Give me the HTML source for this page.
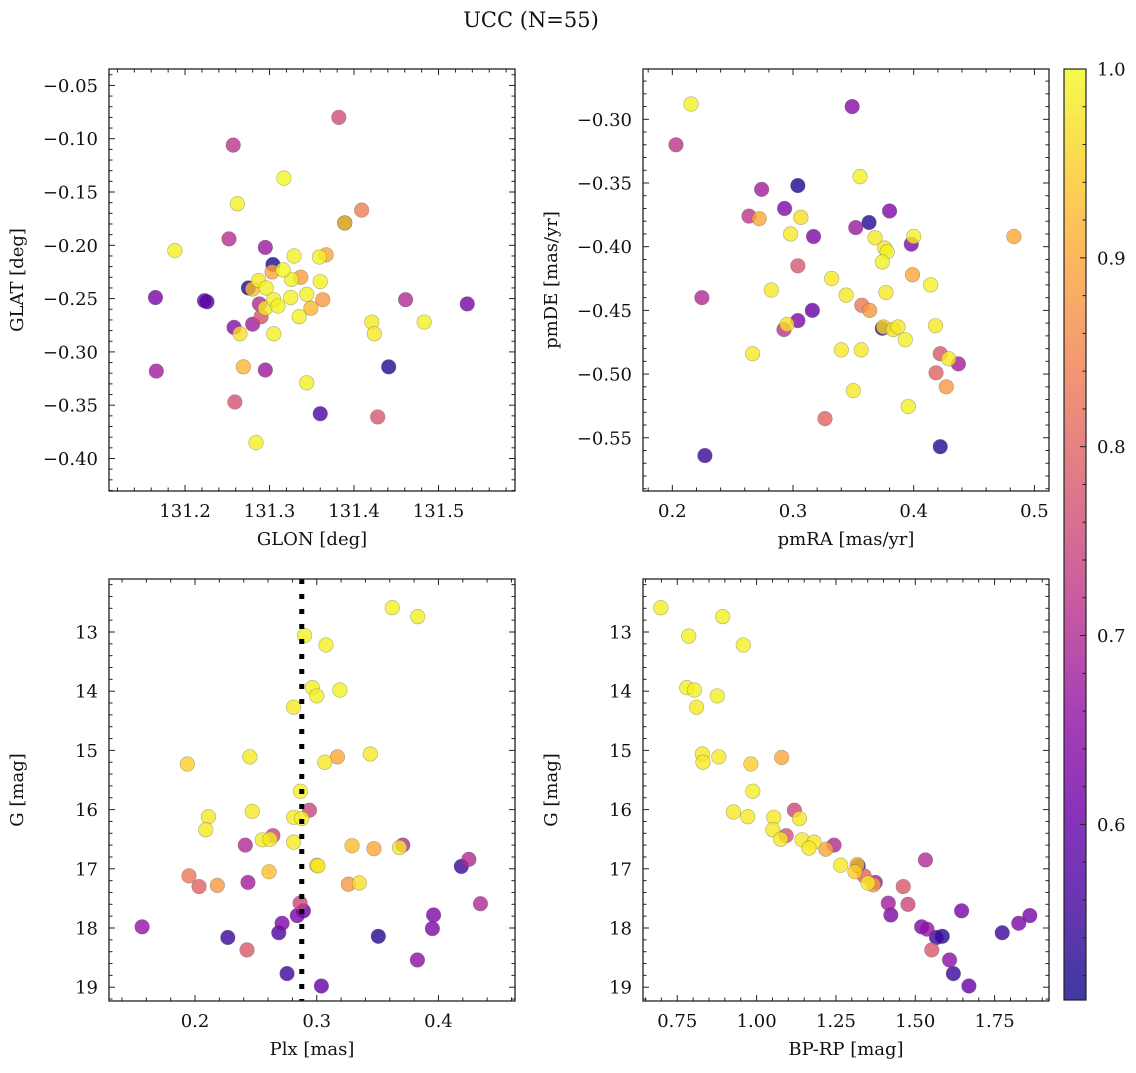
<!DOCTYPE html>
<html><head><meta charset="utf-8"><style>
html,body{margin:0;padding:0;background:#fff;}
svg text{font-family:"DejaVu Serif","Liberation Serif",serif;fill:#111;}
</style></head><body>
<svg id="fig" width="1136" height="1068" viewBox="0 0 1136 1068" xmlns="http://www.w3.org/2000/svg">
<text x="531" y="27" font-size="21" text-anchor="middle">UCC (N=55)</text>
</svg>
<script>
// ---- data ----
const glon = [131.382,131.257,131.317,131.262,131.409,131.389,131.389,131.252,131.188,131.295,131.329,131.367,131.359,131.304,131.303,131.316,131.337,131.326,131.360,131.287,131.275,131.280,131.296,131.165,131.223,131.226,131.325,131.344,131.363,131.461,131.534,131.305,131.288,131.310,131.295,131.349,131.290,131.335,131.258,131.280,131.421,131.483,131.265,131.305,131.424,131.166,131.269,131.295,131.441,131.344,131.259,131.360,131.428,131.284];
const glat = [-0.080,-0.106,-0.137,-0.161,-0.167,-0.179,-0.179,-0.194,-0.205,-0.202,-0.210,-0.209,-0.211,-0.218,-0.225,-0.223,-0.230,-0.232,-0.234,-0.233,-0.240,-0.241,-0.240,-0.249,-0.252,-0.253,-0.249,-0.246,-0.251,-0.251,-0.255,-0.251,-0.255,-0.257,-0.259,-0.259,-0.267,-0.267,-0.277,-0.274,-0.272,-0.272,-0.283,-0.283,-0.283,-0.318,-0.314,-0.317,-0.314,-0.329,-0.347,-0.358,-0.361,-0.385];
const probP1 = [0.76,0.72,1.0,0.99,0.84,0.53,0.95,0.71,0.99,0.67,0.99,0.90,0.99,0.52,0.90,1.0,0.89,0.99,0.99,0.98,0.52,0.93,0.99,0.62,0.59,0.57,0.99,0.99,0.88,0.70,0.62,0.99,0.70,0.99,0.98,0.92,0.77,0.99,0.64,0.68,0.98,0.99,0.97,0.99,0.98,0.68,0.92,0.67,0.53,0.99,0.77,0.57,0.78,0.99];

const pmra = [0.2155,0.349,0.203,0.3555,0.304,0.274,0.293,0.380,0.2635,0.272,0.3065,0.363,0.352,0.298,0.317,0.368,0.400,0.398,0.483,0.376,0.378,0.374,0.304,0.399,0.332,0.414,0.282,0.377,0.344,0.2245,0.357,0.3635,0.316,0.304,0.295,0.2925,0.418,0.374,0.375,0.383,0.387,0.393,0.2665,0.340,0.3565,0.422,0.429,0.437,0.4185,0.427,0.350,0.3955,0.3265,0.422,0.227];
const pmde = [-0.288,-0.290,-0.320,-0.345,-0.352,-0.355,-0.370,-0.372,-0.376,-0.378,-0.377,-0.381,-0.385,-0.390,-0.392,-0.393,-0.392,-0.398,-0.392,-0.401,-0.404,-0.412,-0.415,-0.422,-0.425,-0.430,-0.434,-0.436,-0.438,-0.440,-0.446,-0.450,-0.450,-0.458,-0.461,-0.465,-0.462,-0.464,-0.463,-0.465,-0.463,-0.473,-0.484,-0.481,-0.481,-0.484,-0.488,-0.492,-0.499,-0.510,-0.513,-0.5255,-0.535,-0.557,-0.564];
const probP2 = [0.99,0.64,0.72,0.99,0.52,0.68,0.63,0.63,0.72,0.90,0.97,0.53,0.67,0.98,0.63,0.98,0.99,0.63,0.90,0.98,0.99,0.99,0.78,0.90,0.98,0.99,0.98,0.98,0.98,0.70,0.83,0.88,0.60,0.63,0.97,0.72,0.98,0.53,0.96,0.97,0.98,0.99,0.98,0.98,0.98,0.78,0.98,0.68,0.80,0.88,0.98,0.99,0.80,0.53,0.55];

const plx = [0.362,0.383,0.290,0.3076,0.2964,0.300,0.319,0.281,0.245,0.1937,0.3066,0.317,0.344,0.2866,0.294,0.247,0.211,0.281,0.2877,0.2088,0.264,0.2553,0.2616,0.281,0.2413,0.329,0.347,0.3707,0.368,0.300,0.301,0.425,0.4188,0.2608,0.195,0.2033,0.2183,0.2435,0.326,0.335,0.4345,0.2863,0.289,0.284,0.396,0.2715,0.1565,0.395,0.2688,0.2269,0.3506,0.2427,0.3827,0.2756,0.3038];
const gmagP3 = [12.59,12.74,13.06,13.22,13.94,14.08,13.98,14.27,15.11,15.23,15.20,15.11,15.06,15.69,16.01,16.03,16.12,16.13,16.15,16.34,16.44,16.51,16.50,16.55,16.60,16.61,16.66,16.60,16.64,16.94,16.95,16.84,16.96,17.05,17.12,17.30,17.28,17.23,17.26,17.24,17.59,17.58,17.71,17.79,17.78,17.92,17.98,18.01,18.08,18.16,18.14,18.37,18.54,18.77,18.98];
const probP3 = [0.99,0.99,0.99,0.99,0.99,0.99,0.99,0.98,0.98,0.95,0.98,0.90,0.98,0.99,0.75,0.98,0.98,0.98,0.99,0.98,0.75,0.98,0.98,0.98,0.70,0.93,0.90,0.70,0.98,0.95,0.98,0.70,0.55,0.93,0.83,0.80,0.88,0.68,0.88,0.97,0.70,0.75,0.60,0.62,0.63,0.63,0.66,0.63,0.57,0.55,0.53,0.78,0.65,0.55,0.60];
const plxMean = [0.2877];

const bprp = [0.698,0.893,0.786,0.958,0.780,0.804,0.876,0.811,0.829,0.831,0.881,0.982,1.079,0.988,0.927,0.972,1.119,1.135,1.054,1.051,1.093,1.076,1.143,1.181,1.165,1.244,1.218,1.532,1.265,1.32,1.317,1.310,1.339,1.374,1.368,1.351,1.462,1.415,1.477,1.423,1.646,1.861,1.826,1.520,1.537,1.774,1.567,1.585,1.552,1.608,1.620,1.669];
const gmagP4 = [12.59,12.74,13.07,13.22,13.94,13.98,14.08,14.27,15.06,15.20,15.11,15.23,15.12,15.69,16.04,16.12,16.01,16.15,16.13,16.34,16.44,16.50,16.51,16.55,16.65,16.60,16.67,16.85,16.94,16.95,16.93,17.05,17.12,17.23,17.27,17.24,17.30,17.58,17.60,17.78,17.71,17.79,17.92,17.98,18.02,18.08,18.16,18.14,18.37,18.54,18.77,18.98];
const probP4 = [0.99,0.99,0.99,0.99,0.99,0.99,0.99,0.98,0.98,0.98,0.98,0.95,0.90,0.99,0.98,0.98,0.75,0.98,0.98,0.98,0.77,0.98,0.98,0.98,0.98,0.70,0.90,0.70,0.98,0.53,0.93,0.95,0.80,0.68,0.88,0.98,0.78,0.68,0.75,0.63,0.62,0.62,0.63,0.63,0.66,0.55,0.55,0.53,0.78,0.65,0.55,0.60];

const cbTicks = [0.6,0.7,0.8,0.9,1.0];
const cbMin = 0.507, cbMax = 1.0;

// ---- helpers ----
const NS = "http://www.w3.org/2000/svg";
const svg = document.getElementById("fig");
function mk(tag, attrs, parent){const e=document.createElementNS(NS,tag);for(const k in attrs)e.setAttribute(k,attrs[k]);(parent||svg).appendChild(e);return e;}
const stops = ["#0d0887","#41049d","#6a00a8","#8f0da4","#b12a90","#cc4778","#e16462","#f2844b","#fca636","#fcce25","#f0f921"];
function hex(h){return [parseInt(h.slice(1,3),16),parseInt(h.slice(3,5),16),parseInt(h.slice(5,7),16)];}
function plasma(t){t=Math.max(0,Math.min(1,t));const f=t*10,i=Math.min(9,Math.floor(f)),u=f-i;const a=hex(stops[i]),b=hex(stops[i+1]);return "rgb("+a.map((v,k)=>Math.round(v+(b[k]-v)*u)).join(",")+")";}
function cmap(p){return plasma((p-cbMin)/(cbMax-cbMin));}
const fmtMinus = s => s.replace("-","\u2212");
const FS = 18;

function panel(o){
  const g = mk("g",{});
  
  
  const sx = v => o.x0 + (v - o.xmin)/(o.xmax - o.xmin)*(o.x1 - o.x0);
  const sy = v => o.yinv ? o.y0 + (v - o.ymin)/(o.ymax - o.ymin)*(o.y1 - o.y0)
                         : o.y1 - (v - o.ymin)/(o.ymax - o.ymin)*(o.y1 - o.y0);
  const idx = o.xs.map((_,i)=>i).sort((a,b)=>o.ps[a]-o.ps[b]);
  for(const i of idx){
    const c = mk("circle",{cx:sx(o.xs[i]),cy:sy(o.ys[i]),r:7.3,fill:cmap(o.ps[i]),"fill-opacity":0.8,stroke:"#555","stroke-opacity":0.45,"stroke-width":0.6},g);
    
    
  }
  if(o.vline!==undefined){
    const l = mk("line",{x1:sx(o.vline),x2:sx(o.vline),y1:o.y0,y2:o.y1,stroke:"#000","stroke-width":5,"stroke-dasharray":"5 10"},g);
    
    
  }
  const f = mk("rect",{x:o.x0,y:o.y0,width:o.x1-o.x0,height:o.y1-o.y0,fill:"none",stroke:"#222","stroke-width":1.3},g);
  
  
  const eps=1e-9;
  for(let k=Math.ceil(o.xmin/o.xminor-eps);k*o.xminor<=o.xmax+eps;k++){
    const v=k*o.xminor, px=sx(v);
    const isMaj=Math.abs(v/o.xmajor-Math.round(v/o.xmajor))<1e-6;
    const L=isMaj?6:3.5;
    mk("line",{x1:px,x2:px,y1:o.y1,y2:o.y1-L,stroke:"#222","stroke-width":1},g);
    mk("line",{x1:px,x2:px,y1:o.y0,y2:o.y0+L,stroke:"#222","stroke-width":1},g);
    if(isMaj && o.xlabels.includes(v.toFixed(o.xdec))){
      const t=mk("text",{x:px,y:o.y1+26,"font-size":FS,"text-anchor":"middle"},g);
      t.textContent=fmtMinus(v.toFixed(o.xdec));
      
      
    }
  }
  for(let k=Math.ceil(Math.min(o.ymin,o.ymax)/o.yminor-eps);k*o.yminor<=Math.max(o.ymin,o.ymax)+eps;k++){
    const v=k*o.yminor, py=sy(v);
    const isMaj=Math.abs(v/o.ymajor-Math.round(v/o.ymajor))<1e-6;
    const L=isMaj?6:3.5;
    mk("line",{x1:o.x0,x2:o.x0+L,y1:py,y2:py,stroke:"#222","stroke-width":1},g);
    mk("line",{x1:o.x1,x2:o.x1-L,y1:py,y2:py,stroke:"#222","stroke-width":1},g);
    if(isMaj && o.ylabels.includes(v.toFixed(o.ydec))){
      const t=mk("text",{x:o.x0-11,y:py+6.5,"font-size":FS,"text-anchor":"end"},g);
      t.textContent=fmtMinus(v.toFixed(o.ydec));
      
      
    }
  }
  const xt=mk("text",{x:(o.x0+o.x1)/2,y:o.y1+54,"font-size":FS,"text-anchor":"middle"},g);
  xt.textContent=o.xtitle;
  
  
  const yx=o.x0-86, yc=(o.y0+o.y1)/2;
  const yt=mk("text",{x:yx,y:yc,"font-size":FS,"text-anchor":"middle",transform:"rotate(-90 "+yx+" "+yc+")"},g);
  yt.textContent=o.ytitle;
  
  
}

panel({name:"glon-glat-panel",x0:109,x1:515,y0:69,y1:491,xmin:131.110,xmax:131.5905,ymin:-0.4305,ymax:-0.0346,
  xs:glon,ys:glat,ps:probP1,xmajor:0.1,xminor:0.02,ymajor:0.05,yminor:0.01,xdec:1,ydec:2,
  xlabels:["131.2","131.3","131.4","131.5"],ylabels:["-0.05","-0.10","-0.15","-0.20","-0.25","-0.30","-0.35","-0.40"],
  xtitle:"GLON [deg]",ytitle:"GLAT [deg]"});
panel({name:"pm-panel",x0:643,x1:1049,y0:69,y1:491,xmin:0.1757,xmax:0.5121,ymin:-0.5918,ymax:-0.2605,
  xs:pmra,ys:pmde,ps:probP2,xmajor:0.1,xminor:0.02,ymajor:0.05,yminor:0.01,xdec:1,ydec:2,
  xlabels:["0.2","0.3","0.4","0.5"],ylabels:["-0.30","-0.35","-0.40","-0.45","-0.50","-0.55"],
  xtitle:"pmRA [mas/yr]",ytitle:"pmDE [mas/yr]"});
panel({name:"plx-g-panel",x0:109,x1:515,y0:579,y1:1001,xmin:0.1293,xmax:0.4629,ymin:12.105,ymax:19.233,yinv:true,
  xs:plx,ys:gmagP3,ps:probP3,xmajor:0.1,xminor:0.02,ymajor:1,yminor:0.2,xdec:1,ydec:0,vline:plxMean[0],
  xlabels:["0.2","0.3","0.4"],ylabels:["13","14","15","16","17","18","19"],
  xtitle:"Plx [mas]",ytitle:"G [mag]"});
panel({name:"cmd-panel",x0:643,x1:1049,y0:579,y1:1001,xmin:0.642,xmax:1.9214,ymin:12.105,ymax:19.233,yinv:true,
  xs:bprp,ys:gmagP4,ps:probP4,xmajor:0.25,xminor:0.05,ymajor:1,yminor:0.2,xdec:2,ydec:0,
  xlabels:["0.75","1.00","1.25","1.50","1.75"],ylabels:["13","14","15","16","17","18","19"],
  xtitle:"BP-RP [mag]",ytitle:"G [mag]"});

// ---- colorbar ----
(function(){
  const x0=1064,x1=1086,y0=69,y1=1000;
  const cb=mk("g",{});
  
  
  const defs=mk("defs",{},cb);
  const lg=mk("linearGradient",{id:"cbg",x1:0,y1:1,x2:0,y2:0},defs);
  for(let i=0;i<=20;i++){mk("stop",{offset:i/20,"stop-color":plasma(i/20)},lg);}
  mk("rect",{x:x0,y:y0,width:x1-x0,height:y1-y0,fill:"url(#cbg)","fill-opacity":0.8},cb);
  mk("rect",{x:x0,y:y0,width:x1-x0,height:y1-y0,fill:"none",stroke:"#222","stroke-width":1.2},cb);
  const sy=v=>y1-(v-cbMin)/(cbMax-cbMin)*(y1-y0);
  for(let k=26;k<=50;k++){const v=k*0.02;const py=sy(v);if(py<y0-0.5)continue;
    const maj=(k%5===0);mk("line",{x1:x1,x2:x1-(maj?6:3.5),y1:py,y2:py,stroke:"#222","stroke-width":1},cb);}
  for(const v of cbTicks){
    const t=mk("text",{x:x1+11,y:sy(v)+6.5,"font-size":FS},cb);
    t.textContent=v.toFixed(1);
    
    
  }
})();
</script>
</body></html>
